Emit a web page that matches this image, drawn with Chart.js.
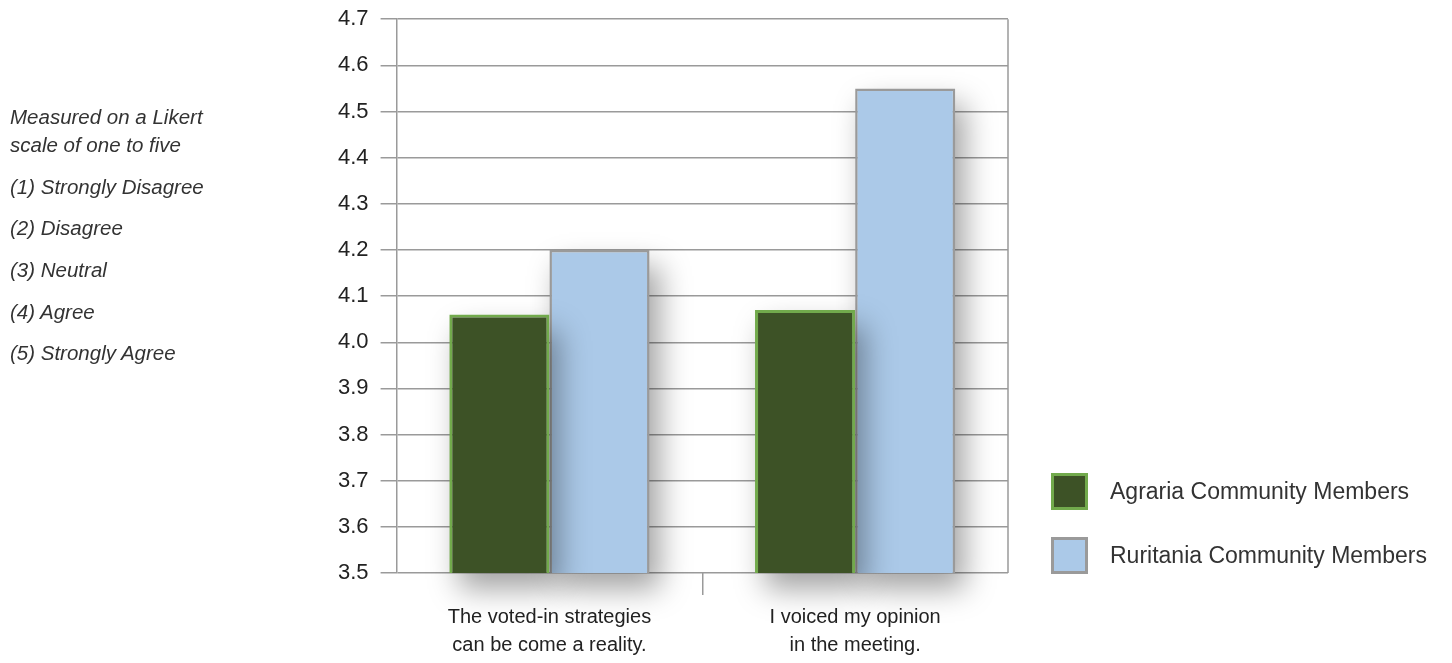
<!DOCTYPE html>
<html>
<head>
<meta charset="utf-8">
<script src="https://cdn.jsdelivr.net/npm/chart.js@4.4.0/dist/chart.umd.min.js"></script>
<style>
  body { margin: 0; background: #fff; font-family: "Liberation Sans", Arial, sans-serif; overflow: hidden; }
  #wrap { position: relative; width: 1452px; height: 663px; overflow: hidden; }
  #chart { position: absolute; left: 0; top: -6px; }
  #note { position: absolute; left: 10px; top: 104px; font-style: italic; font-size: 20.5px; color: #333; }
  #note div { height: 41.7px; line-height: 26px; }
  #note div.first { height: 28px; }
  #legend { position: absolute; left: 1051px; top: 473px; }
  .item { display: flex; align-items: center; height: 37px; margin-bottom: 27px; font-size: 23px; color: #333; }
  .box { width: 37px; height: 37px; margin-right: 22px; box-sizing: border-box; border: 3px solid; }
</style>
</head>
<body>
<div id="wrap">
  <canvas id="chart" width="1452" height="669"></canvas>
  <div id="note"></div>
  <div id="legend"></div>
</div>
<script>
const categories = [["The voted-in strategies", "can be come a reality."], ["I voiced my opinion", "in the meeting."]];
const seriesNames = ["Agraria Community Members", "Ruritania Community Members"];
const agraria = [4.06, 4.07];
const ruritania = [4.20, 4.55];
const noteLines = ["Measured on a Likert", "scale of one to five", "(1) Strongly Disagree", "(2) Disagree", "(3) Neutral", "(4) Agree", "(5) Strongly Agree"];

const fills = ["#3d5226", "#abc9e8"];
const borders = ["#72aa4c", "#9a9a9a"];
const gridColor = "#9a9a9a";

// side note
const note = document.getElementById("note");
noteLines.forEach((t, i) => {
  const d = document.createElement("div");
  d.textContent = t;
  if (i === 0) d.className = "first";
  note.appendChild(d);
});

// legend
const legend = document.getElementById("legend");
seriesNames.forEach((name, i) => {
  const row = document.createElement("div");
  row.className = "item";
  row.innerHTML = `<span class="box" style="background:${fills[i]};border-color:${borders[i]}"></span><span>${name}</span>`;
  legend.appendChild(row);
});

// right border + soft drop shadow under each dataset's bars
const frame = {
  id: "frame",
  beforeDatasetsDraw(chart) {
    const { ctx, chartArea } = chart;
    ctx.save();
    ctx.strokeStyle = gridColor;
    ctx.lineWidth = 1.5;
    ctx.beginPath();
    ctx.moveTo(chartArea.right, chartArea.top);
    ctx.lineTo(chartArea.right, chartArea.bottom);
    ctx.stroke();
    ctx.restore();
  },
  beforeDatasetDraw(chart, args) {
    const ctx = chart.ctx;
    const bottom = chart.chartArea.bottom;
    const shift = 4000;
    ctx.save();
    ctx.shadowColor = "rgba(0,0,0,0.36)";
    ctx.shadowBlur = 28;
    ctx.shadowOffsetX = 10 + shift;
    ctx.shadowOffsetY = 16;
    ctx.fillStyle = "#000";
    args.meta.data.forEach(bar => {
      const p = bar.getProps(["x", "y", "width", "base"], true);
      const base = Math.min(p.base, bottom);
      ctx.fillRect(p.x - p.width / 2 - shift, p.y, p.width, base - p.y);
    });
    ctx.restore();
  }
};

new Chart(document.getElementById("chart"), {
  type: "bar",
  data: {
    labels: categories,
    datasets: [
      { label: seriesNames[0], data: agraria, backgroundColor: fills[0], borderColor: borders[0], borderWidth: 3, borderSkipped: false },
      { label: seriesNames[1], data: ruritania, backgroundColor: fills[1], borderColor: borders[1], borderWidth: 2.5, borderSkipped: false }
    ]
  },
  options: {
    responsive: false,
    animation: false,
    layout: { padding: { left: 326, right: 444, top: 0, bottom: -4 } },
    datasets: { bar: { barPercentage: 1, categoryPercentage: 0.655 } },
    plugins: { legend: { display: false }, tooltip: { enabled: false } },
    scales: {
      y: {
        min: 3.5,
        max: 4.7,
        ticks: {
          stepSize: 0.1,
          padding: 12,
          color: "#222",
          font: { family: "Liberation Sans", size: 22 },
          callback: v => v.toFixed(1)
        },
        grid: { color: gridColor, lineWidth: 1.5, tickLength: 16 },
        border: { color: gridColor, width: 1.5 }
      },
      x: {
        ticks: {
          padding: 8,
          color: "#222",
          font: { family: "Liberation Sans", size: 20, lineHeight: 1.4 }
        },
        grid: {
          offset: true,
          drawOnChartArea: false,
          tickLength: 22,
          lineWidth: 1.5,
          color: c => c.index === 1 ? gridColor : "rgba(0,0,0,0)"
        },
        border: { display: false }
      }
    }
  },
  plugins: [frame]
});
</script>
</body>
</html>
